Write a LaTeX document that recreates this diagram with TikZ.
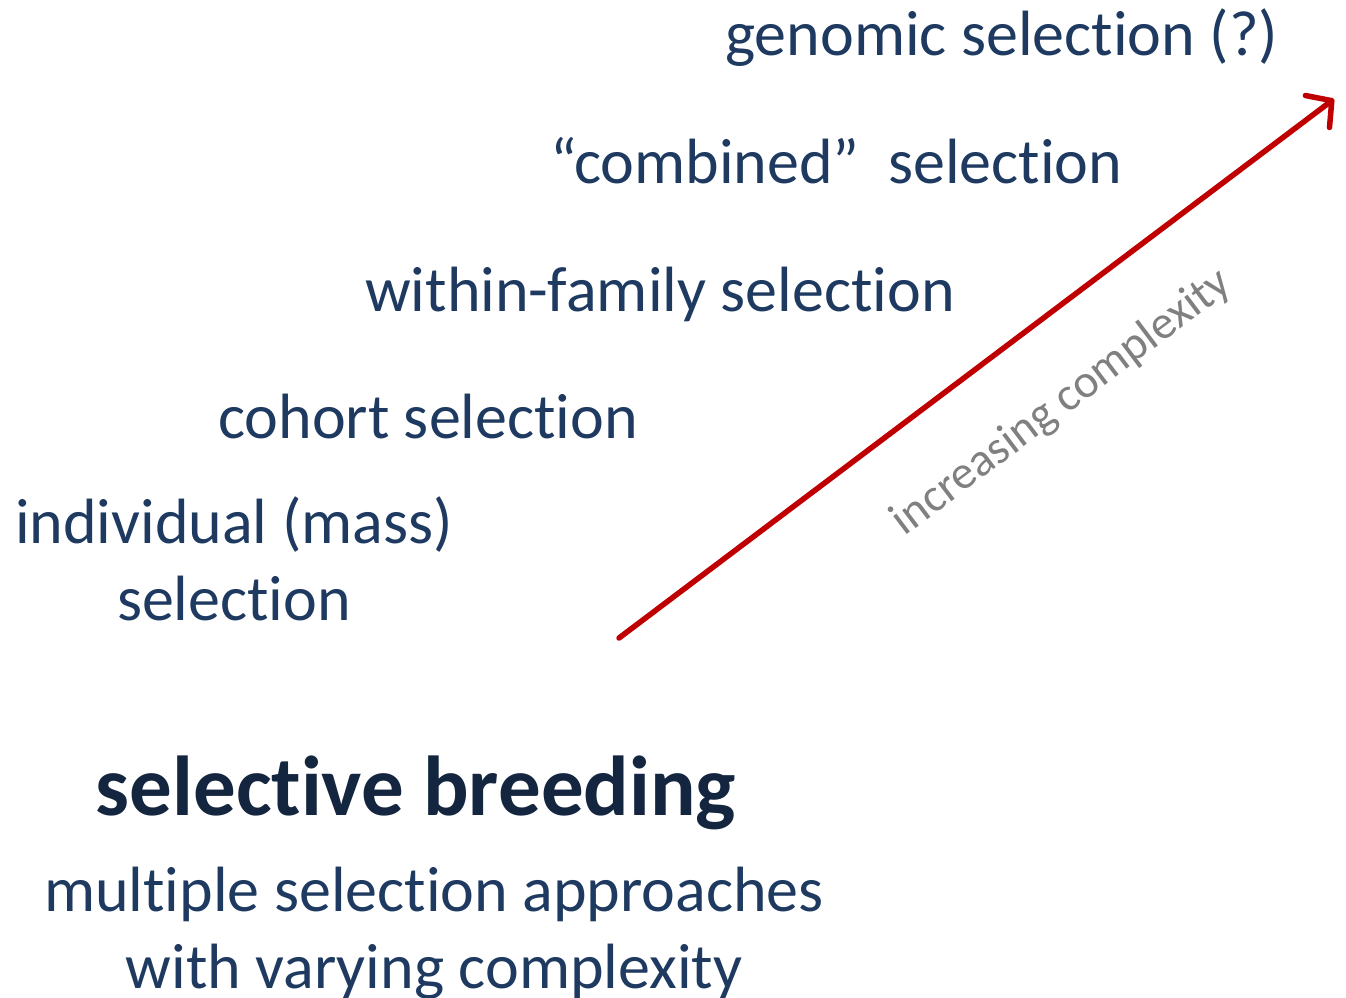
\documentclass[tikz,border=0pt]{standalone}
\usepackage{fontspec}
\setmainfont{Carlito}[Ligatures=NoCommon]
\usetikzlibrary{arrows.meta}
\definecolor{navy}{HTML}{1F3A60}
\definecolor{darknavy}{HTML}{14263F}
\definecolor{arrowred}{HTML}{C00000}
\definecolor{graytxt}{HTML}{808080}
\tikzset{
  item/.style={anchor=base west, inner sep=0pt, text=navy, font=\fontsize{64}{77}\selectfont},
  itemc/.style={anchor=base, inner sep=0pt, text=navy, align=center, font=\fontsize{64}{77}\selectfont},
  titlebox/.style={anchor=base, inner sep=0pt, text=darknavy, font=\fontsize{85}{100}\selectfont\bfseries},
  trend/.style={draw=arrowred, line width=5.5pt, line cap=round, -{Straight Barb[length=18pt,width=40pt,line cap=round,line join=round]}},
  trendlabel/.style={text=graytxt, font=\fontsize{47}{56}\selectfont, rotate=37, anchor=center, inner sep=0pt}
}
\begin{document}
\begin{tikzpicture}[x=1pt,y=1pt]
\useasboundingbox (0,0) rectangle (1346,-997);
\node[item] (gen) at (725,-55) {genomic selection (?)};
\node[item] (comb) at (550,-183) {“combined”\ \ selection};
\node[item] (within) at (365,-311) {within-family selection};
\node[item] (cohort) at (218,-438) {cohort selection};
\node[itemc] (indiv) at (234,-620) {individual (mass)\\selection};
\node[titlebox] (title) at (416,-815) {selective breeding};
\node[itemc] (multi) at (434,-988) {multiple selection approaches\\with varying complexity};
\coordinate (start) at (619,-638);
\coordinate (end) at (1334,-99);
\draw[trend] (start) -- (end);
\node[trendlabel] (lab) at (1062,-403) {increasing complexity};
\end{tikzpicture}
\end{document}
